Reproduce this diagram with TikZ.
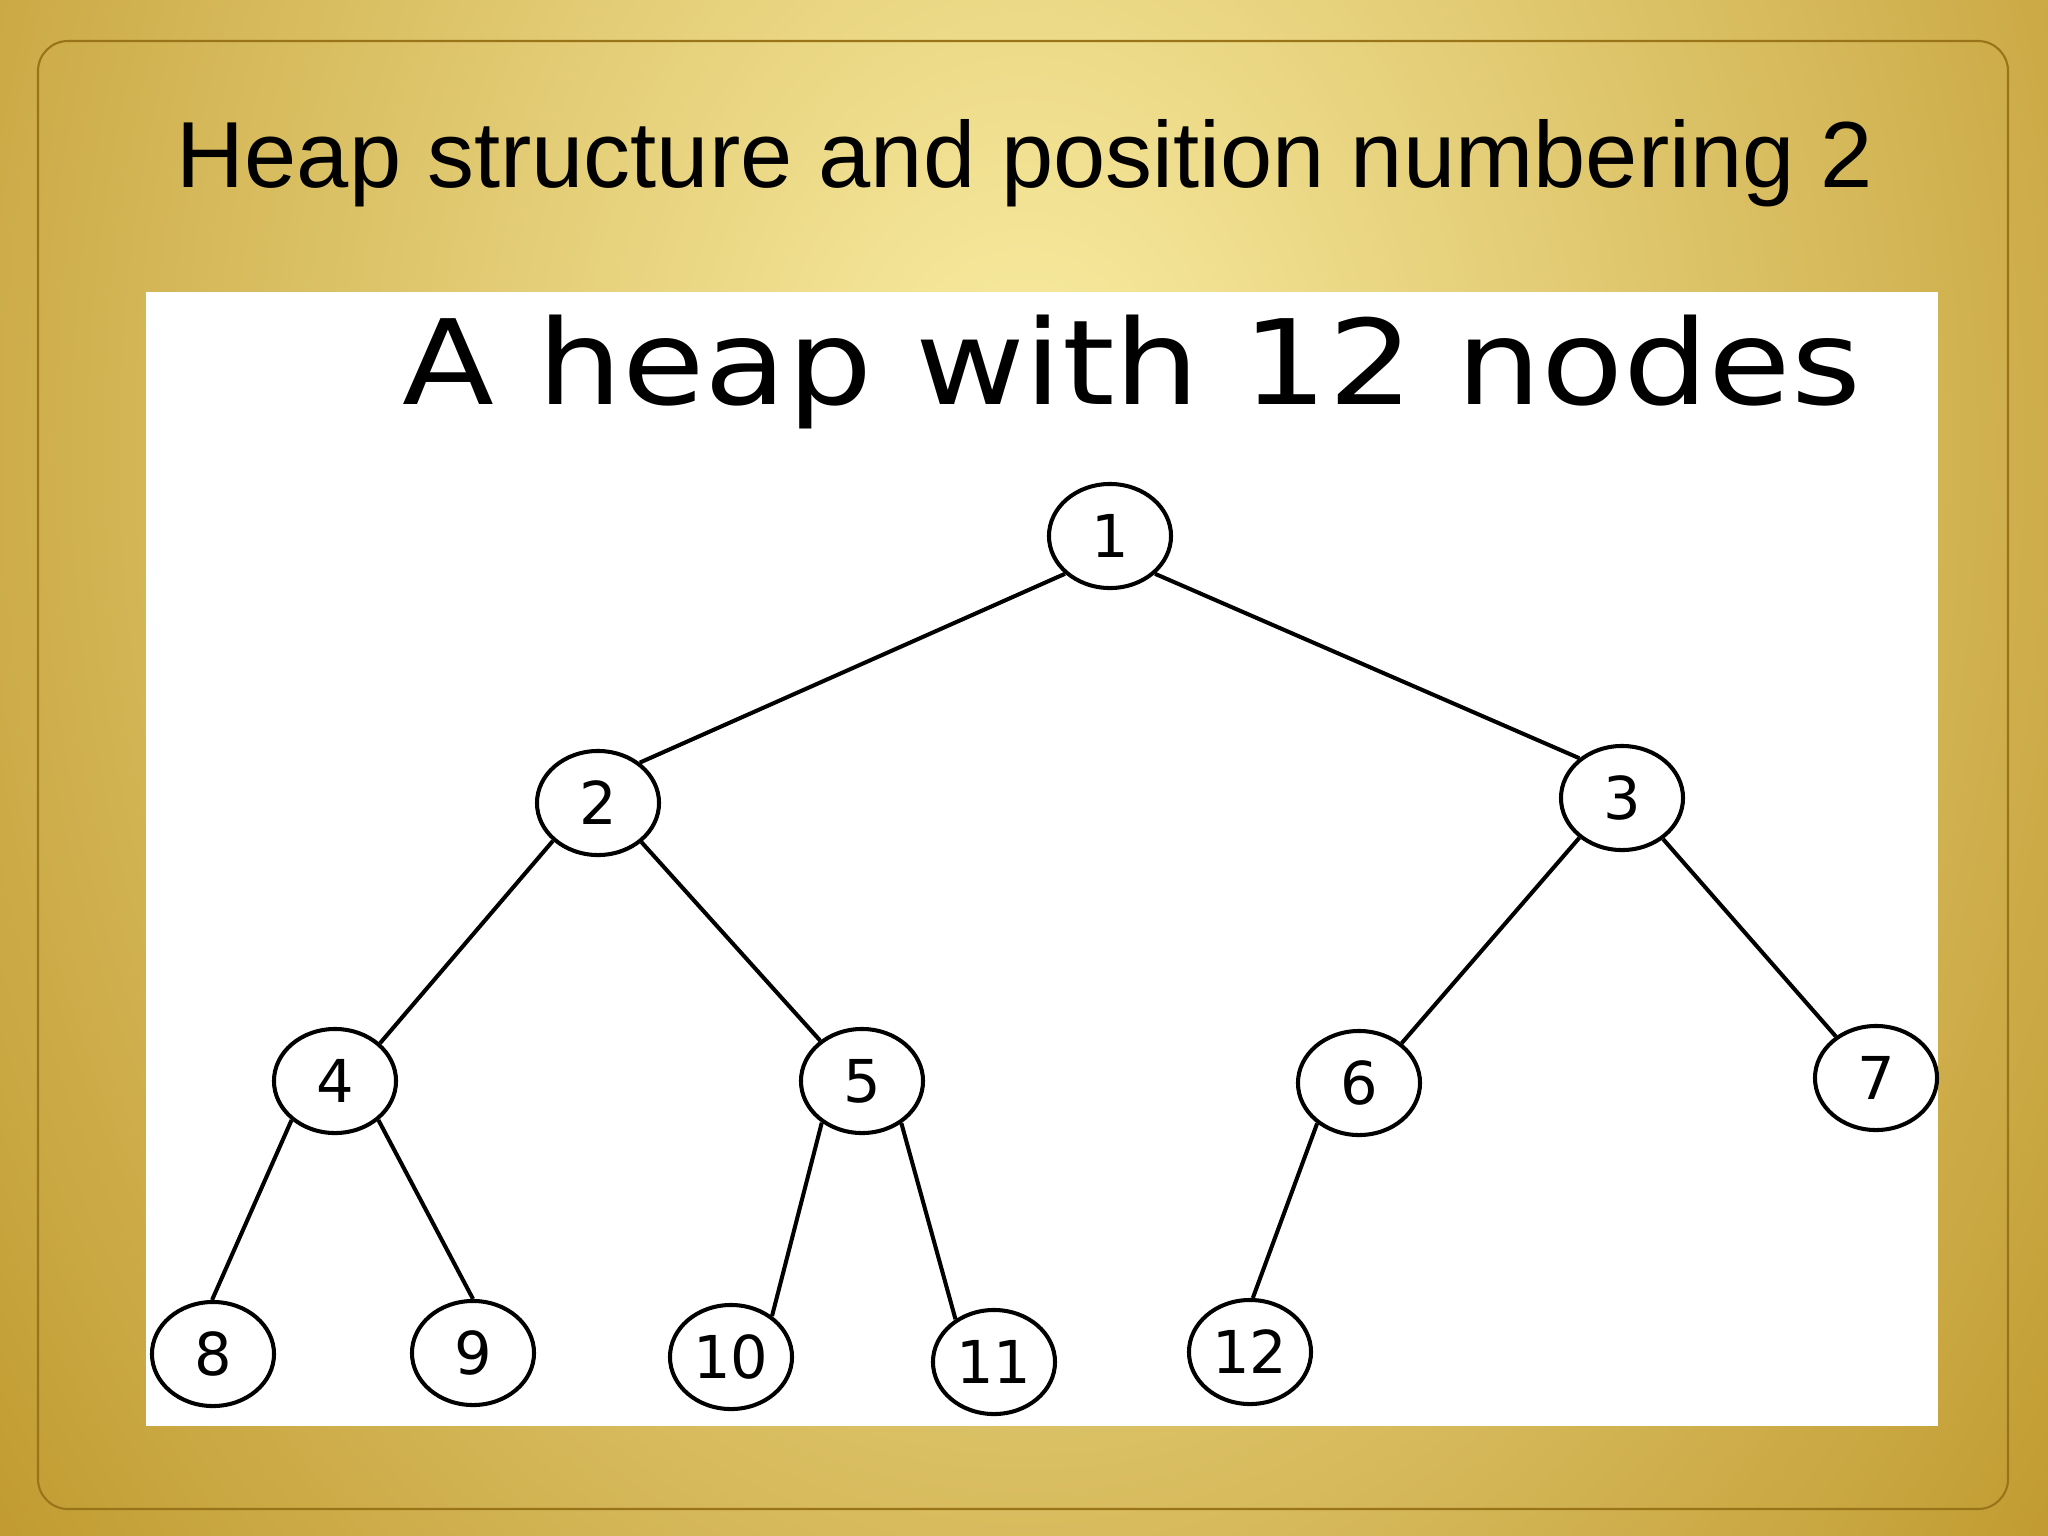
\documentclass[tikz,border=0pt]{standalone}
\usepackage{graphicx}
\usepackage{fontspec}
\setmainfont{Liberation Sans}
\newfontfamily\dejavu{DejaVu Sans}
\usetikzlibrary{shapes.geometric,positioning}
\definecolor{goldlight}{HTML}{FAEEA4}
\definecolor{golddark}{HTML}{B0820E}
\definecolor{goldrule}{HTML}{9A7418}
\tikzset{
  slidetitle/.style={anchor=base, inner sep=0pt, font=\fontsize{26.7}{32}\selectfont},
  figtitle/.style={anchor=base, inner sep=0pt, font=\dejavu\fontsize{33.5}{40}\selectfont},
  heapnode/.style={ellipse, draw=black, line width=1.15pt, fill=white, inner sep=0pt, minimum width=1.22cm, minimum height=1.04cm, font=\dejavu\fontsize{16.8}{20}\selectfont},
  treeedge/.style={line width=1.15pt},
}

\begin{document}
\begin{tikzpicture}[x=0.01cm, y=-0.01cm]
  \useasboundingbox (0,0) rectangle (2048,1536);
  % slide background
  \begin{scope}
    \clip (0,0) rectangle (2048,1536);
    \fill[golddark] (0,0) rectangle (2048,1536);
    \shade[inner color=goldlight, outer color=golddark] (1024,450) ellipse [x radius=1700, y radius=2300];
  \end{scope}
  \draw[goldrule, line width=0.6pt, rounded corners=0.3cm] (38,41) rectangle (2008,1509);
  \node[slidetitle] (title) at (1025,187) {Heap structure and position numbering 2};
  % figure
  \fill[white] (146,292) rectangle (1938,1426);
  \node[figtitle] (caption) at (1132,404) {\scalebox{1.14}[1]{A heap with 12 nodes}};
  \node[heapnode] (n1) at (1110,536) {1};
  \node[heapnode] (n2) at (598,803) {2};
  \node[heapnode] (n3) at (1622,798) {3};
  \node[heapnode] (n4) at (335,1081) {4};
  \node[heapnode] (n5) at (862,1081) {5};
  \node[heapnode] (n6) at (1359,1083) {6};
  \node[heapnode] (n7) at (1876,1078) {7};
  \node[heapnode] (n8) at (213,1354) {8};
  \node[heapnode] (n9) at (473,1353) {9};
  \node[heapnode] (n10) at (731,1357) {10};
  \node[heapnode] (n11) at (994,1362) {11};
  \node[heapnode] (n12) at (1250,1352) {12};
  \draw[treeedge] (n1.220) -- (n2.44);
  \draw[treeedge] (n1.320) -- (n3.137);
  \draw[treeedge] (n2.220) -- (n4.40);
  \draw[treeedge] (n2.318) -- (n5.136);
  \draw[treeedge] (n3.223) -- (n6.43);
  \draw[treeedge] (n3.315) -- (n7.134);
  \draw[treeedge] (n4.222) -- (n8.91);
  \draw[treeedge] (n4.318) -- (n9.90);
  \draw[treeedge] (n5.226) -- (n10.45);
  \draw[treeedge] (n5.313) -- (n11.132);
  \draw[treeedge] (n6.224) -- (n12.87);
\end{tikzpicture}
\end{document}
